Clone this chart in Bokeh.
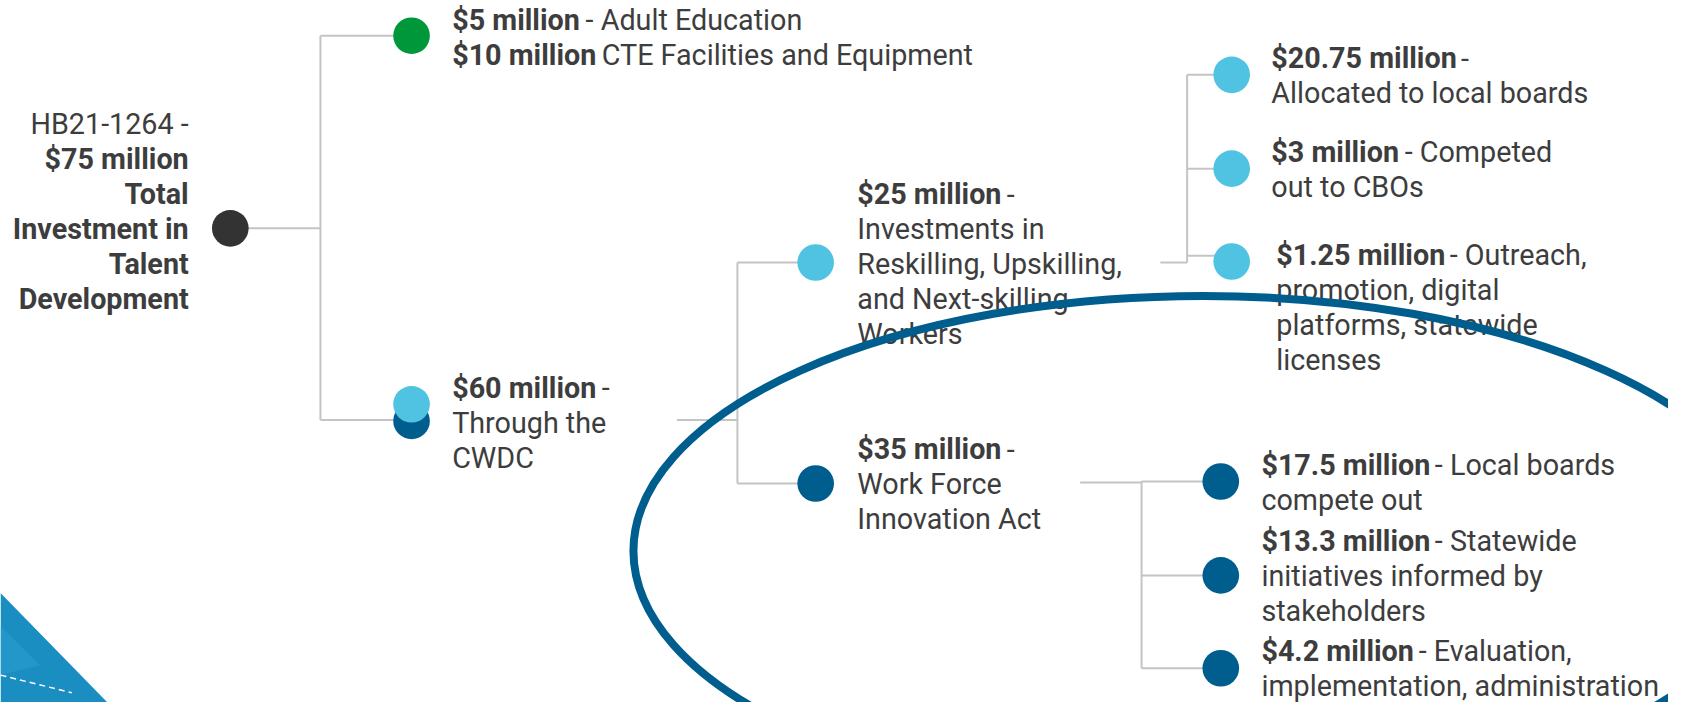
from bokeh.plotting import figure
from bokeh.models import ColumnDataSource, Range1d
from bokeh.embed import file_html
from bokeh.resources import INLINE
from bokeh.core.properties import value

# ---------------- data ----------------
node_ids = ["root", "edu", "cwdc", "reskill", "wioa",
            "local", "cbo", "outreach", "compete", "statewide", "evaluation"]
node_parent = [None, "root", "root", "cwdc", "cwdc",
               "reskill", "reskill", "reskill", "wioa", "wioa", "wioa"]
node_labels = [
    "HB21-1264 -\n**$75 million**\n**Total**\n**Investment in**\n**Talent**\n**Development**",
    "**$5 million** - Adult Education\n**$10 million** CTE Facilities and Equipment",
    "**$60 million** -\nThrough the\nCWDC",
    "**$25 million** -\nInvestments in\nReskilling, Upskilling,\nand Next-skilling\nWorkers",
    "**$35 million** -\nWork Force\nInnovation Act",
    "**$20.75 million** -\nAllocated to local boards",
    "**$3 million** - Competed\nout to CBOs",
    "**$1.25 million** - Outreach,\npromotion, digital\nplatforms, statewide\nlicenses",
    "**$17.5 million** - Local boards\ncompete out",
    "**$13.3 million** - Statewide\ninitiatives informed by\nstakeholders",
    "**$4.2 million** - Evaluation,\nimplementation, administration",
]
node_group = ["total", "education", "cwdc", "reskill", "wioa",
              "reskill", "reskill", "reskill", "wioa", "wioa", "wioa"]

# ---------------- layout / style ----------------
node_cx = [232, 415, 415, 823, 823, 1243, 1243, 1243, 1232, 1232, 1232]
node_cy = [233, 36, 430, 268, 494, 76, 172, 267, 492, 588, 683]
link_in_y = [233, 36, 429, 268, 494, 76, 172, 261, 492, 588, 683]
label_x = [190, 456, 456, 865, 865, 1283, 1283, 1288, 1273, 1273, 1273]
label_y0 = [126, 20, 396, 198, 459, 59, 155, 260, 475, 553, 665]
label_align = ["right"] + ["left"] * 10
out_x = {"root": 232, "cwdc": 683, "reskill": 1171, "wioa": 1090}
out_y = {"root": 233, "cwdc": 429, "reskill": 268, "wioa": 493}
mid_x = {"root": 323, "cwdc": 744, "reskill": 1198, "wioa": 1152}

GROUP_COLOR = {"total": "#333333", "education": "#00973a", "cwdc": "#005e8f",
               "reskill": "#4fc3e1", "wioa": "#005e8f"}
LIGHT = "#4fc3e1"
DARK = "#005e8f"
LINK = "#c4c4c4"
TEXT = "#3d3d3d"
REF_W, REF_H = 1684, 718          # reference drawing space
W, H = 1668, 702                   # canvas size (fits window with 8px margin)
SX = W / REF_W
FS_REF = 29                        # font size in reference pixels
FS = FS_REF * SX
LINE_H = 35.8
FONT = "Roboto"

BOLD_EM = {"$": 0.562, ".": 0.27, " ": 0.245, "m": 0.876, "i": 0.258,
           "l": 0.258, "o": 0.568, "n": 0.552}
for d in "0123456789":
    BOLD_EM[d] = 0.562
SPACE_EM = 0.248


def bold_width(s):
    return sum(BOLD_EM.get(c, 0.56) for c in s) * FS_REF


p = figure(width=W, height=H, output_backend="svg", toolbar_location=None,
           x_range=Range1d(0, REF_W), y_range=Range1d(REF_H, 0),
           min_border=0, background_fill_color="white", border_fill_color="white")
p.axis.visible = False
p.grid.visible = False
p.outline_line_color = None

# ---- decorative corner shape ----
p.patch(x=[0, 108, 0], y=[606, 718, 718], fill_color="#1a8dc1", line_color=None)
p.patch(x=[0, 40, 0], y=[640, 680, 690], fill_color="#2a9fd0", line_color=None, fill_alpha=0.6)
p.line(x=[0, 72], y=[690, 708], line_color="white", line_width=1.5, line_dash="6 4")

# ---- connectors ----
xs, ys = [], []
idx = {n: i for i, n in enumerate(node_ids)}
for par in out_x:
    kids = [i for i, pp in enumerate(node_parent) if pp == par]
    mx = mid_x[par]
    xs.append([out_x[par], mx]); ys.append([out_y[par], out_y[par]])
    yy = [link_in_y[k] for k in kids] + [out_y[par]]
    xs.append([mx, mx]); ys.append([min(yy), max(yy)])
    for k in kids:
        xs.append([mx, node_cx[k]]); ys.append([link_in_y[k], link_in_y[k]])
p.multi_line(xs=xs, ys=ys, line_color=LINK, line_width=2)

# ---- nodes ----
cols = [GROUP_COLOR[g] for g in node_group]
p.scatter(x=node_cx, y=node_cy, size=37 * SX, marker="circle", fill_color=cols, line_color=None)
# cwdc node is split between reskilling and WIOA: light dot on top of the dark one
ci = idx["cwdc"]
p.scatter(x=[node_cx[ci]], y=[node_cy[ci] - 17], size=37 * SX, marker="circle",
          fill_color=LIGHT, line_color=None)

# ---- labels ----
bx, by, bt, nx, ny, nt = [], [], [], [], [], []
rx, ry, rt, rs = [], [], [], []
for i, lab in enumerate(node_labels):
    for j, line in enumerate(lab.split("\n")):
        y = label_y0[i] + j * LINE_H
        if label_align[i] == "right":
            bold = line.startswith("**")
            rx.append(label_x[i]); ry.append(y); rt.append(line.replace("**", ""))
            rs.append("bold" if bold else "normal")
            continue
        parts = line.split("**")
        x = label_x[i]
        for k, seg in enumerate(parts):
            if not seg:
                continue
            if k % 2 == 1:
                bx.append(x); by.append(y); bt.append(seg)
                x += bold_width(seg)
            else:
                if seg.startswith(" "):
                    x += SPACE_EM * FS_REF
                    seg = seg.lstrip(" ")
                nx.append(x); ny.append(y); nt.append(seg)

common = dict(text_font=value(FONT), text_font_size=f"{FS:.2f}px", text_baseline="middle",
              text_color=TEXT)
p.text(x=bx, y=by, text=bt, text_align="left", text_font_style="bold", **common)
p.text(x=nx, y=ny, text=nt, text_align="left", text_font_style="normal", **common)
src_r = ColumnDataSource(dict(x=rx, y=ry, t=rt, s=rs))
p.text(x="x", y="y", text="t", source=src_r, text_align="right", text_font_style="s", **common)

# ---- highlight ellipse (drawn over the labels) ----
p.ellipse(x=1214, y=563, width=1150, height=522, fill_color=None,
          line_color=DARK, line_width=8)

open("out.html", "w").write(file_html(p, INLINE))
